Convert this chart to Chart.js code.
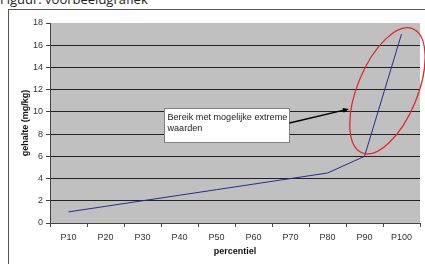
<!DOCTYPE html>
<html>
<head>
<meta charset="utf-8">
<script src="https://cdn.jsdelivr.net/npm/chart.js@4"></script>
<style>
  body { margin: 0; width: 425px; height: 264px; overflow: hidden; background: #fff; font-family: "Liberation Sans", Arial, sans-serif; }
  #caption { position: absolute; left: 0; top: -10px; font-size: 13px; color: #222; font-family: "Open Sans", "Liberation Sans", sans-serif; }
  #frame { position: absolute; left: 8px; top: 9px; width: 430px; height: 270px; border: 1px solid #555; box-sizing: border-box; }
  #wrap { position: absolute; left: 0; top: 0; width: 425px; height: 264px; }
</style>
</head>
<body>
<div id="caption">Figuur: voorbeeldgrafiek</div>
<div id="frame"></div>
<div id="wrap"><canvas id="chart"></canvas></div>
<script>
const percentiles = ['P10', 'P20', 'P30', 'P40', 'P50', 'P60', 'P70', 'P80', 'P90', 'P100'];
const contentValues = [1, 1.5, 2, 2.5, 3, 3.5, 4, 4.5, 6, 17];
const calloutLines = ['Bereik met mogelijke extreme', 'waarden'];

const plotBackground = {
    id: 'plotBackground',
    beforeDraw(chart) {
        const {ctx, chartArea: a} = chart;
        ctx.save();
        ctx.fillStyle = '#c0c0c0';
        ctx.fillRect(a.left, a.top, a.right - a.left, a.bottom - a.top);
        ctx.restore();
    }
};

// callout box, arrow and red ellipse, placed through the scales
const callout = {
    id: 'callout',
    afterDatasetsDraw(chart) {
        const {ctx} = chart;
        const x = chart.scales.x, y = chart.scales.y;
        ctx.save();

        // ellipse
        ctx.strokeStyle = '#e02828';
        ctx.lineWidth = 1.3;
        ctx.beginPath();
        ctx.ellipse(x.getPixelForValue(8.62), y.getPixelForValue(11.9), 30, 67, 0.39, 0, Math.PI * 2);
        ctx.stroke();

        // box
        const bx = Math.round(x.getPixelForValue(2.58)) + 0.5;
        const by = Math.round(y.getPixelForValue(10.35)) + 0.5;
        ctx.fillStyle = '#fff';
        ctx.strokeStyle = '#808080';
        ctx.lineWidth = 1;
        ctx.fillRect(bx, by, 125, 34);
        ctx.strokeRect(bx, by, 125, 34);
        ctx.fillStyle = '#222';
        ctx.font = '9.1px "Liberation Sans", Arial, sans-serif';
        ctx.textBaseline = 'middle';
        ctx.fillText(calloutLines[0], bx + 3, by + 9);
        ctx.fillText(calloutLines[1], bx + 3, by + 20);

        // arrow
        const x0 = bx + 125, y0 = y.getPixelForValue(9.0);
        const x1 = x.getPixelForValue(7.58), y1 = y.getPixelForValue(10.26);
        const ang = Math.atan2(y1 - y0, x1 - x0);
        ctx.strokeStyle = '#000';
        ctx.lineWidth = 1.3;
        ctx.beginPath();
        ctx.moveTo(x0, y0);
        ctx.lineTo(x1 - 4 * Math.cos(ang), y1 - 4 * Math.sin(ang));
        ctx.stroke();
        ctx.fillStyle = '#000';
        ctx.beginPath();
        ctx.moveTo(x1, y1);
        ctx.lineTo(x1 - 6 * Math.cos(ang) + 2.5 * Math.sin(ang), y1 - 6 * Math.sin(ang) - 2.5 * Math.cos(ang));
        ctx.lineTo(x1 - 6 * Math.cos(ang) - 2.5 * Math.sin(ang), y1 - 6 * Math.sin(ang) + 2.5 * Math.cos(ang));
        ctx.closePath();
        ctx.fill();
        ctx.restore();
    }
};

const tickFont = {family: '"Liberation Sans", Arial, sans-serif', size: 9};
const titleFont = {family: '"Liberation Sans", Arial, sans-serif', size: 9, weight: 'bold'};

new Chart(document.getElementById('chart'), {
    type: 'line',
    data: {
        labels: percentiles,
        datasets: [{
            data: contentValues,
            borderColor: '#2a2a8a',
            borderWidth: 1,
            pointRadius: 0,
            tension: 0,
            fill: false
        }]
    },
    options: {
        responsive: true,
        maintainAspectRatio: false,
        animation: false,
        events: [],
        layout: {padding: {left: 0, top: 23, right: 5, bottom: 0}},
        plugins: {legend: {display: false}, tooltip: {enabled: false}},
        scales: {
            x: {
                offset: true,
                afterFit: s => { s.height = 41; },
                grid: {offset: true, drawOnChartArea: false, drawTicks: true, tickLength: 4, color: '#444'},
                border: {color: '#444'},
                ticks: {font: tickFont, color: '#333', padding: 5, maxRotation: 0, autoSkip: false},
                title: {display: true, text: 'percentiel', font: titleFont, color: '#111', padding: {bottom: 7, top: 0}}
            },
            y: {
                min: 0,
                max: 18,
                afterFit: s => { s.width = 50; },
                grid: {
                    color: ctx => ctx.tick && ctx.tick.value === 18 ? 'rgba(0,0,0,0)' : '#222',
                    tickColor: '#444',
                    tickLength: 4
                },
                border: {color: '#444'},
                ticks: {stepSize: 2, font: tickFont, color: '#333', padding: 3},
                title: {display: true, text: 'gehalte (mg/kg)', font: titleFont, color: '#111', padding: {top: 20, bottom: 0}}
            }
        }
    },
    plugins: [plotBackground, callout]
});
</script>
</body>
</html>
